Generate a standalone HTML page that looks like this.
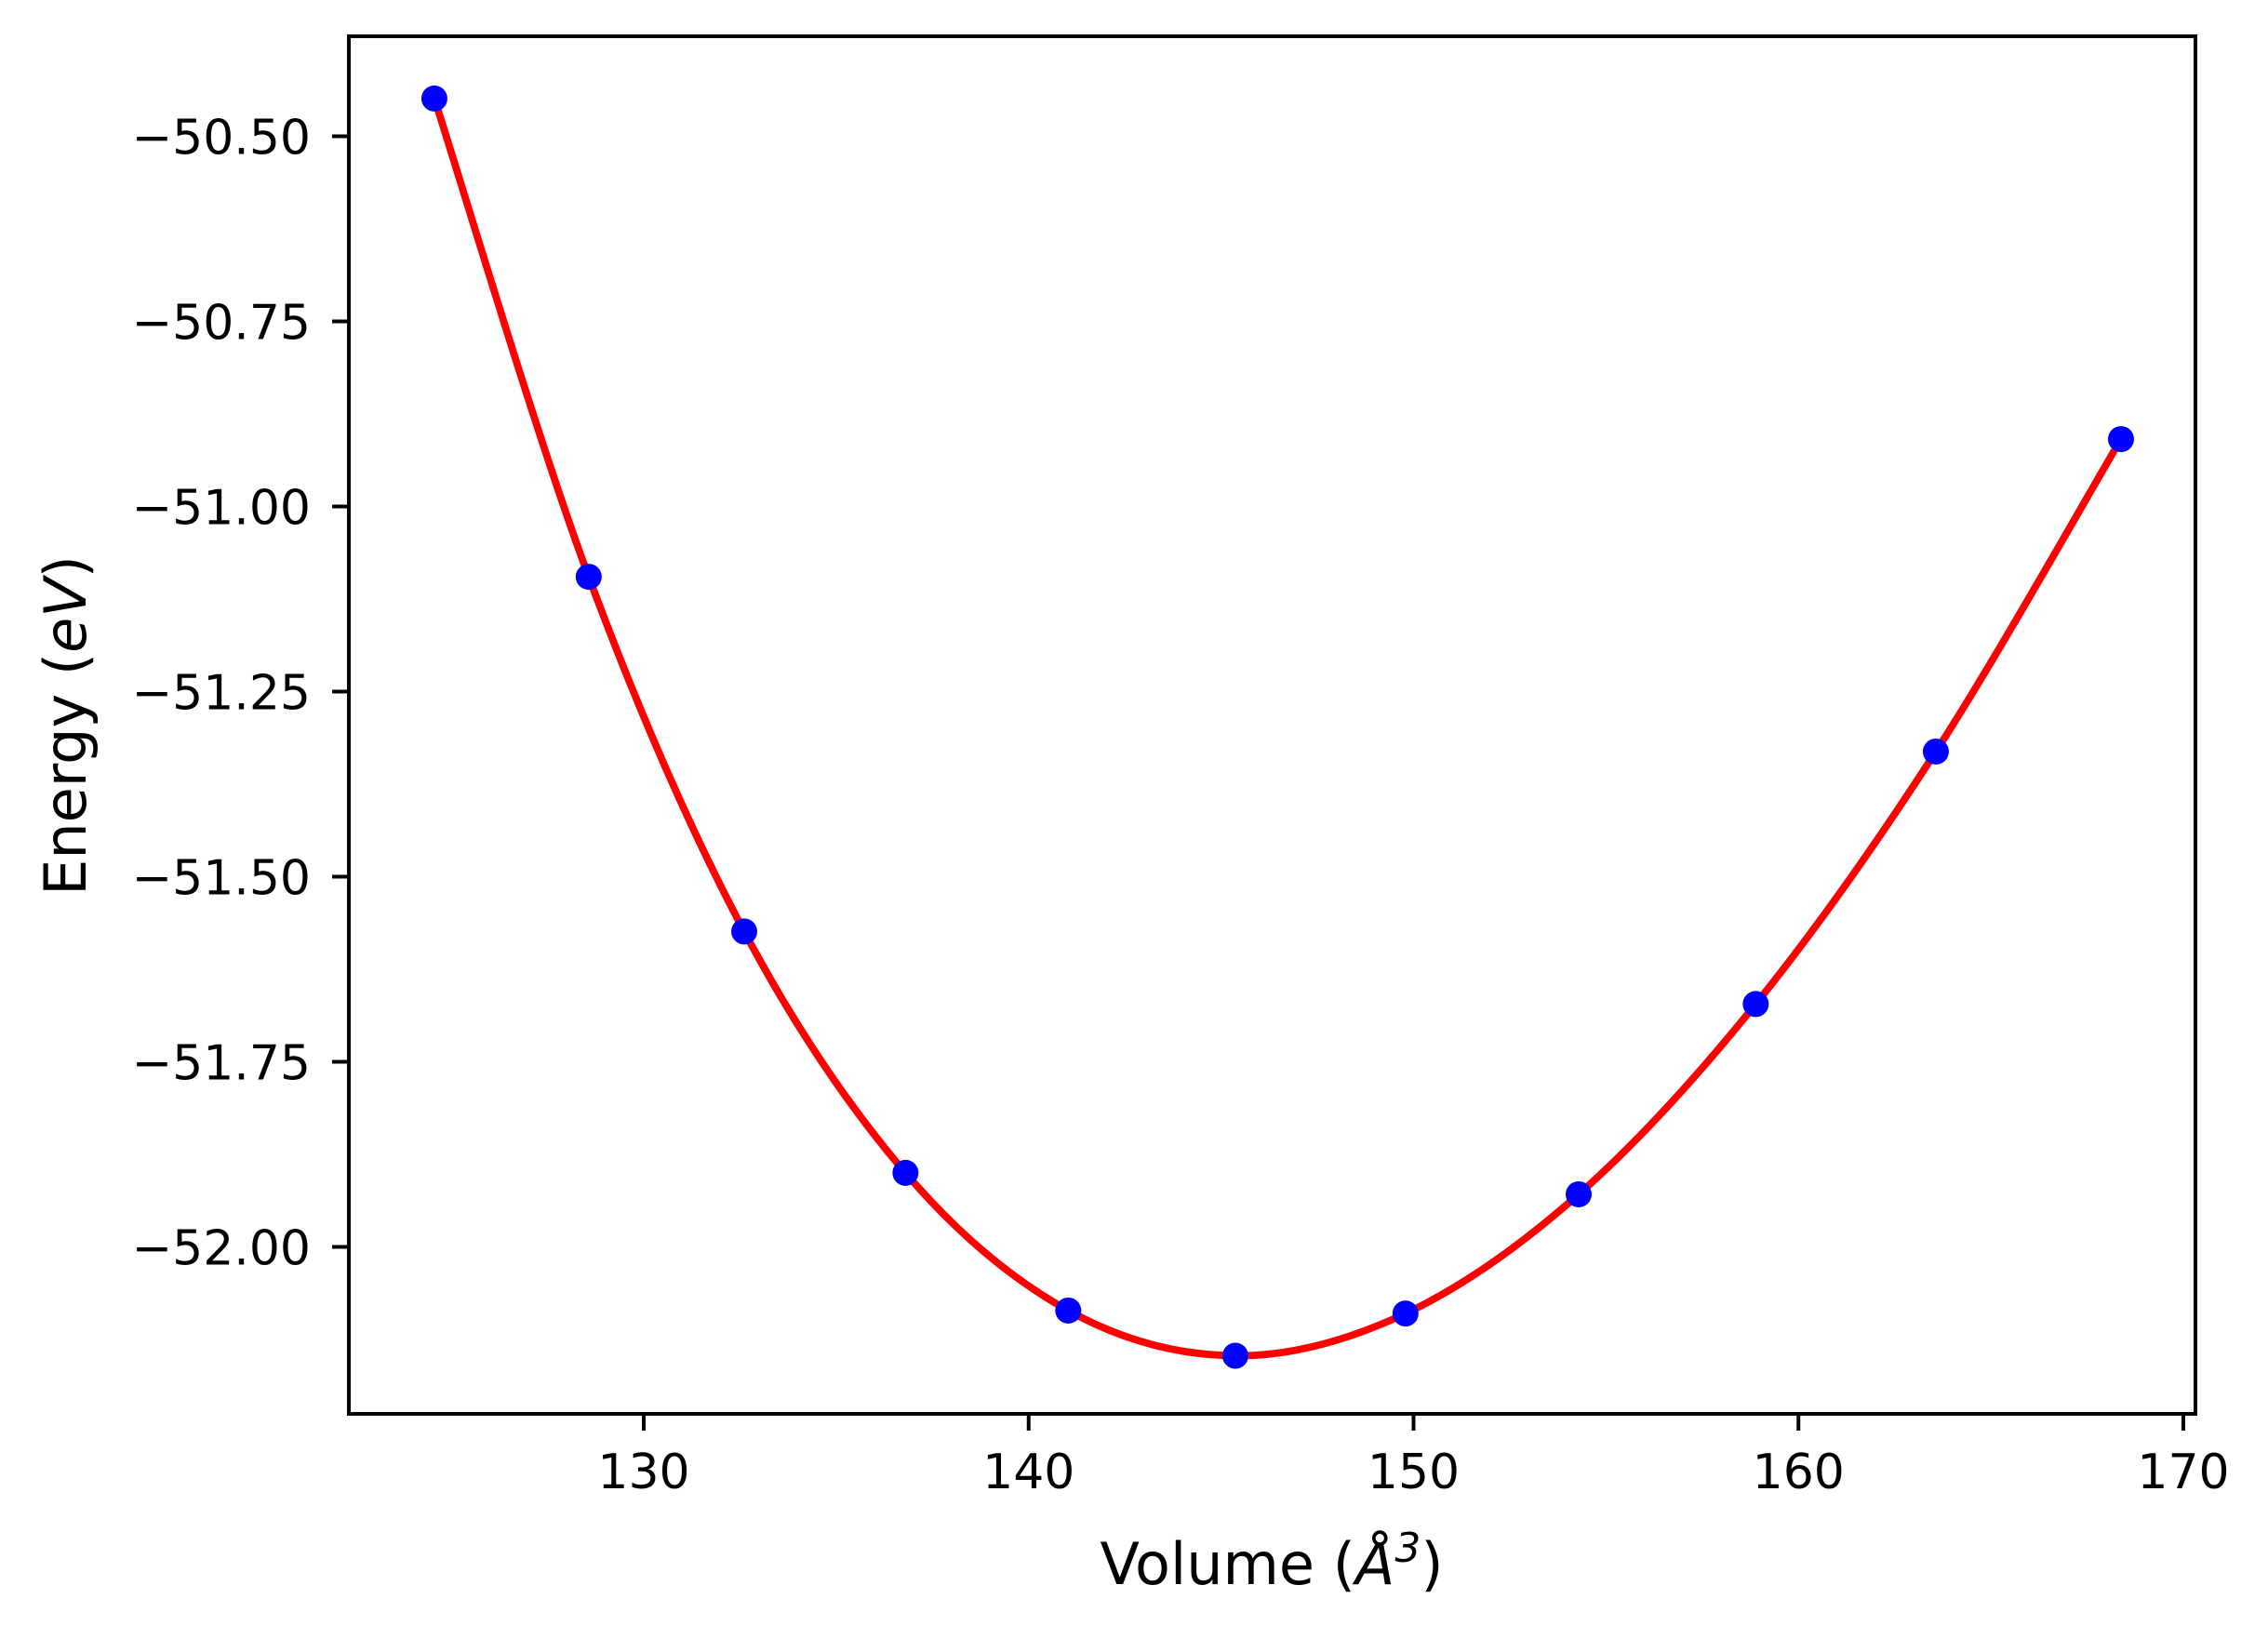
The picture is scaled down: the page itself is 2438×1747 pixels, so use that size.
<!DOCTYPE html>
<html><head><meta charset="utf-8"><style>
html,body{margin:0;padding:0;background:#fff;}
svg{display:block;font-family:"DejaVu Sans","Liberation Sans",sans-serif;}
</style></head><body>
<svg id="chart" width="2438" height="1747" viewBox="0 0 2438 1747" xmlns="http://www.w3.org/2000/svg">
<rect width="2438" height="1747" fill="#fff"/>
<g id="plot"></g>
<text x="1367" y="1703" font-size="62" text-anchor="middle">Volume (<tspan font-style="italic">Å</tspan><tspan font-size="44" dy="-24" font-style="italic">3</tspan><tspan dy="24">)</tspan></text>
<text transform="translate(92,780) rotate(-90)" font-size="62" text-anchor="middle">Energy (<tspan font-style="italic">eV</tspan>)</text>
</svg>
<script>
const volumes=[124.56,128.57,132.61,136.80,141.03,145.37,149.79,154.29,158.89,163.57,168.38];
const energies=[-50.449,-51.095,-51.574,-51.900,-52.086,-52.147,-52.090,-51.929,-51.672,-51.331,-50.909];
const xTicks=[130,140,150,160,170];
const yTicks=[-50.50,-50.75,-51.00,-51.25,-51.50,-51.75,-52.00];
const yTickLabels=["−50.50","−50.75","−51.00","−51.25","−51.50","−51.75","−52.00"];

const L=375,R=2360,T=39,B=1520;
function xs(v){return 692+(v-130)*41.375;}
function ys(e){return 146.5+(-50.5-e)/0.25*199;}
const NS="http://www.w3.org/2000/svg";
const g=document.getElementById('plot');
function mk(tag,attrs){const el=document.createElementNS(NS,tag);for(const k in attrs)el.setAttribute(k,attrs[k]);return el;}

// fit curve: Catmull-Rom through data points
let d="M"+xs(volumes[0])+","+ys(energies[0]);
const P=volumes.map((v,i)=>[xs(v),ys(energies[i])]);
for(let i=0;i<P.length-1;i++){
  const p0=P[i-1]||P[i],p1=P[i],p2=P[i+1],p3=P[i+2]||P[i+1];
  const c1=[p1[0]+(p2[0]-p0[0])/6,p1[1]+(p2[1]-p0[1])/6];
  const c2=[p2[0]-(p3[0]-p1[0])/6,p2[1]-(p3[1]-p1[1])/6];
  d+=" C"+c1[0]+","+c1[1]+" "+c2[0]+","+c2[1]+" "+p2[0]+","+p2[1];
}
const curve=mk('path',{d:d,fill:'none',stroke:'#ff0000','stroke-width':7.8,'stroke-linejoin':'round'});


g.appendChild(curve);

volumes.forEach((v,i)=>{
  const c=mk('circle',{cx:xs(v),cy:ys(energies[i]),r:14,fill:'#0000ff'});
  
  
  g.appendChild(c);
});

const frame=mk('rect',{x:L,y:T,width:R-L,height:B-T,fill:'none',stroke:'#000','stroke-width':4});


g.appendChild(frame);

xTicks.forEach(t=>{
  const x=xs(t);
  const tk=mk('line',{x1:x,x2:x,y1:B,y2:B+18,stroke:'#000','stroke-width':4});
  
  
  g.appendChild(tk);
  const tx=mk('text',{x:x,y:1600,'font-size':52,'text-anchor':'middle'});
  
  
  tx.textContent=String(t);
  g.appendChild(tx);
});
yTicks.forEach((t,i)=>{
  const y=ys(t);
  const tk=mk('line',{x1:L-18,x2:L,y1:y,y2:y,stroke:'#000','stroke-width':4});
  
  
  g.appendChild(tk);
  const tx=mk('text',{x:334,y:y+19,'font-size':52,'text-anchor':'end'});
  
  
  tx.textContent=yTickLabels[i];
  g.appendChild(tx);
});
</script>
</body></html>
